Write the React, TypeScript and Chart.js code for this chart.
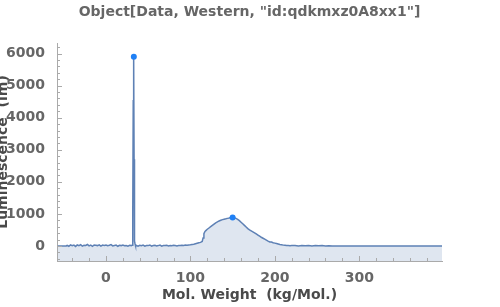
import React, { useEffect, useRef } from "react";
import { Chart, registerables } from "chart.js";

Chart.register(...registerables);

const chartTitle = 'Object[Data, Western, "id:qdkmxz0A8xx1"]';
const xAxisTitle = "Mol. Weight  (kg/Mol.)";
const yAxisTitle = "Luminescence  (lm)";

const xTickValues: number[] = [0, 100, 200, 300];
const yTickValues: number[] = [0, 1000, 2000, 3000, 4000, 5000, 6000];

// Molecular weight (kg/Mol.)
const molWeight: number[] = [
  -57, -47,
  -46, -44, -42, -40, -38, -36, -34, -32, -30, -28, -26, -24, -22, -20, -18, -16, -14, -12, -10,
  -8, -6, -4, -2, 0, 2, 4, 6, 8, 10, 12, 14, 16, 18, 20, 22, 24, 26, 28, 30,
  31, 31.5, 32, 32.3, 32.6, 33, 33.3, 33.6, 34, 34.5, 35,
  36, 38, 40, 42, 44, 46, 48, 50, 52, 54, 56, 58, 60, 62, 64, 66, 68, 70, 72, 74, 76, 78, 80,
  82, 84, 86, 88, 90, 92, 94, 96, 98, 100, 102, 104, 106, 108, 110, 112, 113, 114, 115, 116,
  117, 118, 120, 122, 124, 126, 128, 130, 132, 134, 136, 138, 140, 142, 144, 146, 148, 150,
  152, 154, 156, 158, 160, 162, 164, 166, 168, 170, 172, 174, 176, 178, 180, 182, 184, 186,
  188, 190, 192, 194, 196, 198, 200, 202, 204, 206, 208, 210, 212, 214, 216, 218, 220, 224,
  228, 232, 236, 240, 244, 248, 252, 256, 260, 264, 268, 398,
];

// Luminescence
const luminescence: number[] = [
  0, 0,
  20, -10, 35, 5, 25, -15, 30, 10, 40, -5, 20, 15, 45, 0, 25, -10, 30, 20, 10,
  35, -5, 25, 15, 30, 5, 20, 40, 0, 15, 25, -10, 20, 10, 30, 5, 15, -5, 20, 10,
  25, 80, 1200, 4550, 1500, 5900, 2700, 500, 150, 60, 10,
  15, -10, 20, 5, 25, -5, 15, 10, 30, -5, 15, 20, 0, 10, 25, -5, 15, 10, 20, 0, 15, 5, 20,
  10, 0, 15, 10, 20, 15, 25, 20, 30, 35, 45, 55, 70, 85, 100, 110, 125, 140, 250, 380,
  440, 470, 520, 560, 600, 640, 680, 720, 750, 780, 800, 820, 835, 845, 860, 870, 885, 890,
  880, 860, 830, 790, 740, 690, 640, 590, 540, 500, 470, 440, 410, 375, 340, 305, 270, 240,
  210, 180, 150, 125, 120, 100, 88, 75, 60, 45, 35, 25, 20, 10, 15, 5, 10, 15,
  0, 10, 5, 15, 0, 10, 5, 12, 0, 8, 0, 0,
];

// Peak markers
const peakWeight: number[] = [33, 150];
const peakLuminescence: number[] = [5900, 890];

const xMin = -58;
const xMax = 398;
const yMin = -470;
const yMax = 6330;

const FONT = "'DejaVu Sans', sans-serif";

const tickPlugin = {
  id: "inwardTicks",
  afterDraw(chart: any) {
    const { ctx, chartArea, scales } = chart;
    const xs = scales.x;
    const ys = scales.y;
    ctx.save();
    ctx.strokeStyle = "#aaaaaa";
    ctx.lineWidth = 1;
    ctx.beginPath();
    for (let v = -40; v <= xMax; v += 20) {
      const px = Math.round(xs.getPixelForValue(v)) + 0.5;
      const len = v % 100 === 0 ? 5 : 3;
      ctx.moveTo(px, chartArea.bottom);
      ctx.lineTo(px, chartArea.bottom - len);
    }
    for (let v = -400; v <= yMax; v += 200) {
      const py = Math.round(ys.getPixelForValue(v)) + 0.5;
      const len = v % 1000 === 0 ? 5 : 3;
      ctx.moveTo(chartArea.left, py);
      ctx.lineTo(chartArea.left + len, py);
    }
    ctx.stroke();
    // chart title centred over the plot area
    ctx.fillStyle = "#666666";
    ctx.font = `bold 14px ${FONT}`;
    ctx.textAlign = "center";
    ctx.textBaseline = "middle";
    ctx.fillText(chartTitle, (chartArea.left + chartArea.right) / 2, 12);
    ctx.restore();
  },
};

export default function App() {
  const canvasRef = useRef<HTMLCanvasElement | null>(null);

  useEffect(() => {
    if (!canvasRef.current) return;
    const lineData = molWeight.map((x, i) => ({ x, y: luminescence[i] }));
    const peakData = peakWeight.map((x, i) => ({ x, y: peakLuminescence[i] }));

    const chart = new Chart(canvasRef.current, {
      type: "line",
      data: {
        datasets: [
          {
            data: peakData,
            showLine: false,
            pointRadius: 3,
            pointBackgroundColor: "#1f80f5",
            pointBorderColor: "#1f80f5",
            pointBorderWidth: 0,
          },
          {
            data: lineData,
            borderColor: "#5e81b5",
            borderWidth: 1.5,
            backgroundColor: "rgba(94,129,181,0.2)",
            fill: "start",
            pointRadius: 0,
            tension: 0,
          },
        ],
      },
      options: {
        animation: false,
        responsive: false,
        layout: { padding: { left: 0, right: 58, top: 43, bottom: 0 } },
        plugins: {
          legend: { display: false },
          tooltip: { enabled: false },
          title: { display: false },
        },
        scales: {
          x: {
            type: "linear",
            min: xMin,
            max: xMax,
            grid: { display: false },
            border: { display: true, color: "#aaaaaa", width: 1 },
            afterBuildTicks(scale: any) {
              scale.ticks = xTickValues.map((value) => ({ value }));
            },
            ticks: {
              color: "#666666",
              padding: 1,
              font: { family: FONT, size: 14, weight: "bold" },
              callback: (v: any) => String(v),
            },
            title: {
              display: true,
              text: xAxisTitle,
              color: "#4a4a4a",
              font: { family: FONT, size: 14, weight: "bold" },
              padding: { top: 0, bottom: 3 },
            },
            afterFit(scale: any) {
              scale.height = 46;
            },
          },
          y: {
            type: "linear",
            min: yMin,
            max: yMax,
            grid: { display: false },
            border: { display: true, color: "#aaaaaa", width: 1 },
            afterBuildTicks(scale: any) {
              scale.ticks = yTickValues.map((value) => ({ value }));
            },
            ticks: {
              color: "#666666",
              padding: 4,
              font: { family: FONT, size: 14, weight: "bold" },
              callback: (v: any) => String(v),
            },
            title: {
              display: true,
              text: yAxisTitle,
              color: "#4a4a4a",
              font: { family: FONT, size: 14, weight: "bold" },
              padding: { top: -5, bottom: 0 },
            },
            afterFit(scale: any) {
              scale.width = 57;
            },
          },
        },
      } as any,
      plugins: [tickPlugin],
    });
    return () => chart.destroy();
  }, []);

  return (
    <div style={{ position: "absolute", left: 0, top: 0, width: 500, height: 307, background: "#fff" }}>
      <canvas ref={canvasRef} width={500} height={307} />
    </div>
  );
}
